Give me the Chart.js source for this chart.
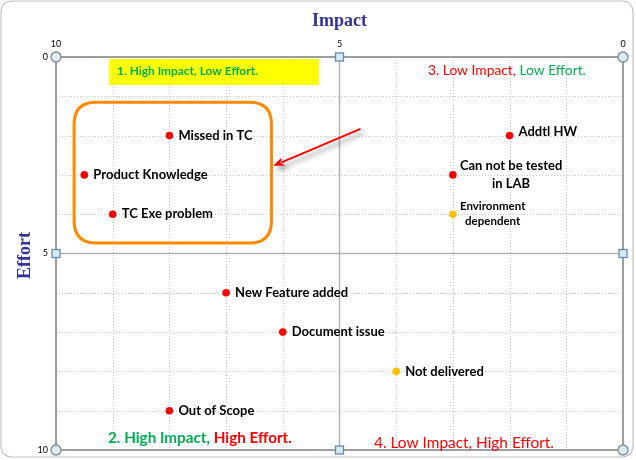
<!DOCTYPE html>
<html><head><meta charset="utf-8">
<script src="https://cdn.jsdelivr.net/npm/chart.js@4.4.1/dist/chart.umd.min.js"></script>
<style>html,body{margin:0;padding:0;background:#fff}#wrap{width:636px;height:460px;position:relative}</style>
</head><body><div id="wrap"><canvas id="c" width="636" height="460"></canvas></div>
<script>
// ---------- DATA ----------
const issueNames   = ['Missed in TC', 'Product Knowledge', 'TC Exe problem', 'Addtl HW', 'Can not be tested\nin LAB', 'New Feature added', 'Document issue', 'Out of Scope'];
const issueImpact  = [8, 9.5, 9, 2, 3, 7, 6, 8];
const issueEffort  = [2, 3, 4, 2, 3, 6, 7, 9];
const depNames     = ['Environment\ndependent', 'Not delivered'];
const depImpact    = [3, 4];
const depEffort    = [4, 8];
const xTickValues  = [10, 5, 0];
const yTickValues  = [0, 5, 10];
const axisTitleX   = 'Impact';
const axisTitleY   = 'Effort';
const quadrantTexts = [
  [['1. High Impact, Low Effort.', '#00B050']],
  [['3. Low Impact, ', '#FF0000'], ['Low Effort.', '#00B050']],
  [['2. High Impact, ', '#00B050'], ['High Effort.', '#FF0000']],
  [['4. Low Impact, High Effort.', '#FF0000']]
];

// ---------- STYLE / LAYOUT ----------
const SANS = 'Lato, "Noto Sans", sans-serif';
const SERIF = '"Liberation Serif", "DejaVu Serif", serif';
const quadStyle = [
  {x: 117, y: 71, w: 141, weight: 'bold', box: {x0: 109, y0: 59, x1: 319, y1: 85, color: '#FFFF00'}},
  {x: 428, y: 71, w: 158, weight: 'normal'},
  {x: 108, y: 438, w: 184, weight: 'bold'},
  {x: 374, y: 443, w: 180, weight: 'normal'}
];
const labelStyle = {size: 13, dx: 9, lineH: 18, small: {'Environment\ndependent': {size: 11.5, lineH: 15, dx: 7}, 'Can not be tested\nin LAB': {dx: 7}}, dy: {'Addtl HW': -4}};
const focusBox = {x0: 9.68, x1: 6.2, y0: 1.15, y1: 4.73, r: 22, color: '#FF8A00'};
const arrow = {x0: 4.63, y0: 1.83, x1: 6.17, y1: 2.77};

function toPts(xs, ys) { return xs.map((x, i) => ({x: x, y: ys[i]})); }

function rr(ctx, x, y, w, h, r) {
  ctx.beginPath();
  ctx.moveTo(x + r, y);
  ctx.lineTo(x + w - r, y); ctx.quadraticCurveTo(x + w, y, x + w, y + r);
  ctx.lineTo(x + w, y + h - r); ctx.quadraticCurveTo(x + w, y + h, x + w - r, y + h);
  ctx.lineTo(x + r, y + h); ctx.quadraticCurveTo(x, y + h, x, y + h - r);
  ctx.lineTo(x, y + r); ctx.quadraticCurveTo(x, y, x + r, y);
  ctx.closePath();
}

function fitSize(ctx, segs, weight, target) {
  const txt = segs.map(s => s[0]).join('');
  let lo = 6, hi = 30;
  for (let i = 0; i < 25; i++) {
    const m = (lo + hi) / 2;
    ctx.font = weight + ' ' + m + 'px ' + SANS;
    if (ctx.measureText(txt).width > target) hi = m; else lo = m;
  }
  return lo;
}

const quadPlugin = {
  id: 'quad',
  beforeDraw(chart) {
    const ctx = chart.ctx;
    ctx.save();
    ctx.fillStyle = '#fff';
    ctx.fillRect(0, 0, chart.width, chart.height);
    ctx.strokeStyle = '#c4c4c4';
    ctx.lineWidth = 1.2;
    rr(ctx, 1, 1, chart.width - 4, chart.height - 4, 12);
    ctx.stroke();
    ctx.restore();
  },
  beforeDatasetsDraw(chart) {
    const ctx = chart.ctx, xs = chart.scales.x, ys = chart.scales.y, a = chart.chartArea;
    ctx.save();
    ctx.strokeStyle = '#c8c8c8';
    ctx.lineWidth = 1;
    ctx.setLineDash([1, 2]);
    for (let v = 1; v < 10; v++) {
      if (v === 5) continue;
      const px = Math.round(xs.getPixelForValue(v)) + 0.5;
      ctx.beginPath(); ctx.moveTo(px, a.top); ctx.lineTo(px, a.bottom); ctx.stroke();
      const py = Math.round(ys.getPixelForValue(v)) + 0.5;
      ctx.beginPath(); ctx.moveTo(a.left, py); ctx.lineTo(a.right, py); ctx.stroke();
    }
    ctx.setLineDash([]);
    ctx.strokeStyle = '#b4b4b4';
    ctx.lineWidth = 1.5;
    const mx = xs.getPixelForValue(5), my = ys.getPixelForValue(5);
    ctx.beginPath(); ctx.moveTo(mx, a.top); ctx.lineTo(mx, a.bottom); ctx.stroke();
    ctx.beginPath(); ctx.moveTo(a.left, my); ctx.lineTo(a.right, my); ctx.stroke();
    ctx.strokeStyle = '#7f7f7f';
    ctx.lineWidth = 1.5;
    ctx.strokeRect(a.left, a.top, a.right - a.left, a.bottom - a.top);
    const q = quadStyle[0].box;
    ctx.fillStyle = q.color;
    ctx.fillRect(q.x0, q.y0, q.x1 - q.x0, q.y1 - q.y0);
    const bx0 = xs.getPixelForValue(focusBox.x0), bx1 = xs.getPixelForValue(focusBox.x1);
    const by0 = ys.getPixelForValue(focusBox.y0), by1 = ys.getPixelForValue(focusBox.y1);
    ctx.strokeStyle = focusBox.color;
    ctx.lineWidth = 3;
    rr(ctx, bx0, by0, bx1 - bx0, by1 - by0, focusBox.r);
    ctx.stroke();
    const ax0 = xs.getPixelForValue(arrow.x0), ay0 = ys.getPixelForValue(arrow.y0);
    const ax1 = xs.getPixelForValue(arrow.x1), ay1 = ys.getPixelForValue(arrow.y1);
    const ang = Math.atan2(ay1 - ay0, ax1 - ax0);
    ctx.shadowColor = 'rgba(0,0,0,0.45)';
    ctx.shadowBlur = 5; ctx.shadowOffsetX = 3; ctx.shadowOffsetY = 4;
    ctx.strokeStyle = '#FF0000'; ctx.fillStyle = '#FF0000';
    ctx.lineWidth = 2;
    const hl = 11, hw = 4.5;
    const bxp = ax1 - Math.cos(ang) * (hl - 2), byp = ay1 - Math.sin(ang) * (hl - 2);
    ctx.beginPath(); ctx.moveTo(ax0, ay0); ctx.lineTo(bxp, byp); ctx.stroke();
    ctx.beginPath();
    ctx.moveTo(ax1, ay1);
    ctx.lineTo(ax1 - Math.cos(ang) * hl + Math.sin(ang) * hw, ay1 - Math.sin(ang) * hl - Math.cos(ang) * hw);
    ctx.lineTo(ax1 - Math.cos(ang) * (hl - 3), ay1 - Math.sin(ang) * (hl - 3));
    ctx.lineTo(ax1 - Math.cos(ang) * hl - Math.sin(ang) * hw, ay1 - Math.sin(ang) * hl + Math.cos(ang) * hw);
    ctx.closePath(); ctx.fill();
    ctx.restore();
  },
  afterDatasetsDraw(chart) {
    const ctx = chart.ctx, xs = chart.scales.x, ys = chart.scales.y;
    ctx.save();
    ctx.fillStyle = '#000';
    ctx.textBaseline = 'middle';
    chart.data.datasets.forEach(ds => {
      if (!ds.names) return;
      ds.data.forEach((p, i) => {
        const name = ds.names[i];
        const st = Object.assign({}, labelStyle, labelStyle.small[name] || {});
        const px = xs.getPixelForValue(p.x) + st.dx;
        const py = ys.getPixelForValue(p.y) + (labelStyle.dy[name] || 0);
        ctx.font = 'bold ' + st.size + 'px ' + SANS;
        const lines = name.split('\n');
        if (lines.length === 1) {
          ctx.textAlign = 'left';
          ctx.fillText(name, px, py);
        } else {
          const w = Math.max(...lines.map(l => ctx.measureText(l).width));
          ctx.textAlign = 'center';
          lines.forEach((l, k) => ctx.fillText(l, px + w / 2, py + (k - (lines.length - 1) / 2) * st.lineH));
        }
      });
    });
    ctx.textAlign = 'left';
    quadrantTexts.forEach((segs, i) => {
      const s = quadStyle[i];
      const size = fitSize(ctx, segs, s.weight, s.w);
      ctx.font = s.weight + ' ' + size + 'px ' + SANS;
      let x = s.x;
      segs.forEach(sg => { ctx.fillStyle = sg[1]; ctx.fillText(sg[0], x, s.y); x += ctx.measureText(sg[0]).width; });
    });
    ctx.fillStyle = '#333399';
    ctx.font = 'bold 18px ' + SERIF;
    ctx.textAlign = 'center';
    ctx.fillText(axisTitleX, xs.getPixelForValue(5), 21);
    ctx.translate(25, ys.getPixelForValue(5) + 2);
    ctx.rotate(-Math.PI / 2);
    ctx.fillText(axisTitleY, 0, 0);
    ctx.restore();
    ctx.save();
    ctx.lineWidth = 1.3;
    const xmin = xs.min, xmax = xs.max, ymin = ys.min, ymax = ys.max, xm = (xmin + xmax) / 2, ym = (ymin + ymax) / 2;
    [[xmin, ymin], [xmax, ymin], [xmin, ymax], [xmax, ymax]].forEach(c => {
      ctx.beginPath();
      ctx.arc(xs.getPixelForValue(c[0]), ys.getPixelForValue(c[1]), 5, 0, Math.PI * 2);
      ctx.fillStyle = '#dcecf1'; ctx.fill();
      ctx.strokeStyle = '#7d8a96'; ctx.stroke();
    });
    [[xm, ymin], [xm, ymax], [xmin, ym], [xmax, ym]].forEach(c => {
      const px = xs.getPixelForValue(c[0]), py = ys.getPixelForValue(c[1]);
      ctx.fillStyle = '#d6ebf6'; ctx.fillRect(px - 4, py - 4, 8, 8);
      ctx.strokeStyle = '#6a8aab'; ctx.strokeRect(px - 4, py - 4, 8, 8);
    });
    ctx.restore();
  }
};

new Chart(document.getElementById('c'), {
  type: 'scatter',
  data: {
    datasets: [
      {label: 'Issues', names: issueNames, data: toPts(issueImpact, issueEffort), backgroundColor: '#FF0000', borderColor: '#FF0000', pointRadius: 3.8, borderWidth: 0},
      {label: 'Dependencies', names: depNames, data: toPts(depImpact, depEffort), backgroundColor: '#FFC000', borderColor: '#FFC000', pointRadius: 3.8, borderWidth: 0}
    ]
  },
  options: {
    responsive: false,
    animation: false,
    devicePixelRatio: 1,
    layout: {padding: {left: 0, right: 13, top: 0, bottom: 10}},
    plugins: {legend: {display: false}, tooltip: {enabled: false}},
    scales: {
      x: {
        type: 'linear', position: 'top', reverse: true, min: 0, max: 10,
        afterBuildTicks: s => { s.ticks = xTickValues.map(v => ({value: v})); },
        ticks: {color: '#000', font: {size: 9, family: SANS}, padding: 8, maxRotation: 0, autoSkip: false, callback: v => String(v)},
        grid: {display: false, drawTicks: false}, border: {display: false},
        afterFit: s => { s.height = 57; s.paddingLeft = 0; s.paddingRight = 0; }
      },
      y: {
        type: 'linear', reverse: true, min: 0, max: 10,
        afterBuildTicks: s => { s.ticks = yTickValues.map(v => ({value: v})); },
        ticks: {color: '#000', font: {size: 9, family: SANS}, padding: 8, autoSkip: false, callback: v => String(v)},
        grid: {display: false, drawTicks: false}, border: {display: false},
        afterFit: s => { s.width = 56; s.paddingTop = 0; s.paddingBottom = 0; }
      }
    }
  },
  plugins: [quadPlugin]
});
</script></body></html>
